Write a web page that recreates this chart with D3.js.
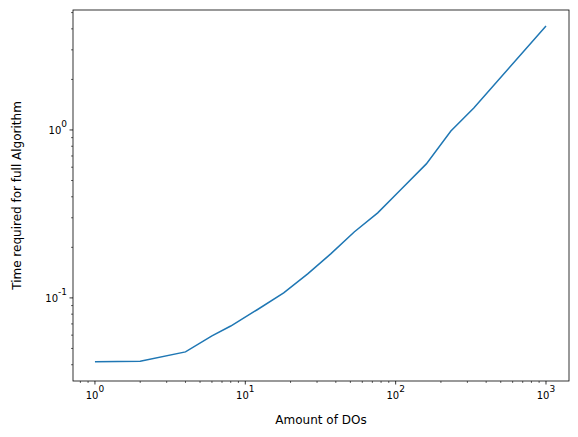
<!DOCTYPE html>
<html><head><meta charset="utf-8">
<script src="https://cdn.jsdelivr.net/npm/d3@7"></script>
<style>body{margin:0;background:#fff}text{font-family:"DejaVu Sans",sans-serif}</style>
</head><body>
<svg id="chart" width="578" height="437"></svg>
<script>
const dos = [1, 2, 4, 6, 8, 12, 18, 26, 37, 53, 76, 108, 160, 233, 331, 1000];
const times = [0.0416, 0.042, 0.0477, 0.0594, 0.068, 0.085, 0.107, 0.139, 0.183, 0.247, 0.321, 0.44, 0.628, 0.986, 1.35, 4.16];
const xMajor = [1, 10, 100, 1000];
const yMajor = [0.1, 1];

const m = {left: 73, right: 569, top: 10, bottom: 381};
const svg = d3.select("#chart");

const x = d3.scaleLog().domain([Math.pow(10, -0.146), Math.pow(10, 3.153)]).range([m.left, m.right]);
const y = d3.scaleLog().domain([0.032, 5.18]).range([m.bottom, m.top]);

function sup(v) {
	const e = Math.round(Math.log10(v));
	return "10<tspan dy='-7' font-size='9'>" + e + "</tspan>";
}

// minor ticks
const xMinor = [];
for (let d = 0.1; d <= 1000; d *= 10) for (let k = 2; k < 10; k++) { const v = d * k; if (v >= x.domain()[0] && v <= x.domain()[1]) xMinor.push(v); }
const yMinor = [];
for (let d = 0.01; d <= 1; d *= 10) for (let k = 2; k < 10; k++) { const v = d * k; if (v >= y.domain()[0] && v <= y.domain()[1]) yMinor.push(v); }

const g = svg.append("g");
g.selectAll(".xm").data(xMinor).enter().append("line")
	.attr("x1", d => x(d)).attr("x2", d => x(d)).attr("y1", m.bottom).attr("y2", m.bottom + 2).attr("stroke", "#000").attr("stroke-width", 0.6);
g.selectAll(".xM").data(xMajor).enter().append("line")
	.attr("x1", d => x(d)).attr("x2", d => x(d)).attr("y1", m.bottom).attr("y2", m.bottom + 3.5).attr("stroke", "#000").attr("stroke-width", 0.8);
g.selectAll(".xl").data(xMajor).enter().append("text")
	.attr("x", d => x(d)).attr("y", m.bottom + 18).attr("text-anchor", "middle").attr("font-size", 10)
	.html(d => sup(d));
g.selectAll(".ym").data(yMinor).enter().append("line")
	.attr("y1", d => y(d)).attr("y2", d => y(d)).attr("x1", m.left).attr("x2", m.left - 2).attr("stroke", "#000").attr("stroke-width", 0.6);
g.selectAll(".yM").data(yMajor).enter().append("line")
	.attr("y1", d => y(d)).attr("y2", d => y(d)).attr("x1", m.left).attr("x2", m.left - 3.5).attr("stroke", "#000").attr("stroke-width", 0.8);
g.selectAll(".yl").data(yMajor).enter().append("text")
	.attr("x", m.left - 6).attr("y", d => y(d) + 4).attr("text-anchor", "end").attr("font-size", 10)
	.html(d => sup(d));

svg.append("path")
	.datum(dos.map((d, i) => [d, times[i]]))
	.attr("d", d3.line().x(d => x(d[0])).y(d => y(d[1])))
	.attr("fill", "none").attr("stroke", "#1f77b4").attr("stroke-width", 1.5);

svg.append("rect").attr("x", m.left).attr("y", m.top).attr("width", m.right - m.left).attr("height", m.bottom - m.top)
	.attr("fill", "none").attr("stroke", "#000").attr("stroke-width", 0.8);

svg.append("text").attr("x", (m.left + m.right) / 2).attr("y", 424).attr("text-anchor", "middle").attr("font-size", 12)
	.text("Amount of DOs");
svg.append("text").attr("transform", `translate(21,${(m.top + m.bottom) / 2}) rotate(-90)`).attr("text-anchor", "middle").attr("font-size", 12)
	.text("Time required for full Algorithm");
</script>
</body></html>
